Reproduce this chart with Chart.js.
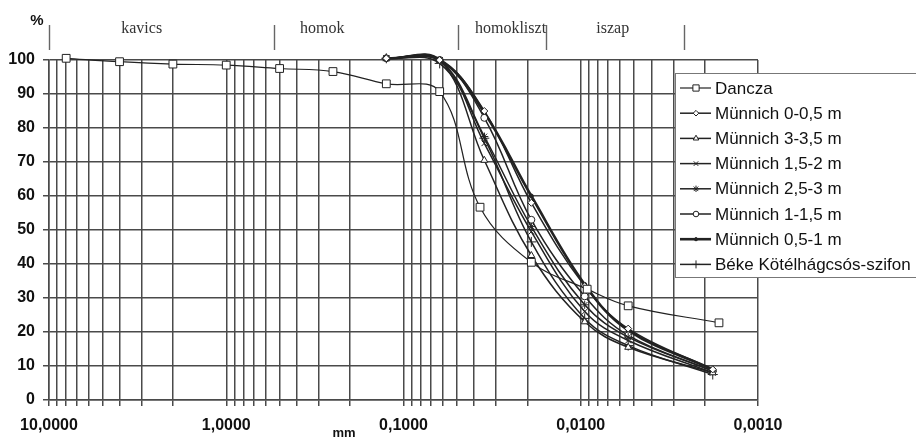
<!DOCTYPE html>
<html>
<head>
<meta charset="utf-8">
<script src="https://cdn.jsdelivr.net/npm/chart.js@4.4.1/dist/chart.umd.min.js"></script>
<style>
  html, body { margin: 0; padding: 0; background: #fff; }
  canvas { display: block; }
</style>
</head>
<body>
<canvas id="szemeloszlas" width="916" height="438"></canvas>
<script>
// szemcseátmérő (mm) és áthullott %
const danczaD = [8, 4, 2, 1, 0.5, 0.25, 0.125, 0.0625, 0.037, 0.019, 0.0092, 0.0054, 0.00166];
const danczaP = [100.5, 99.5, 98.8, 98.5, 97.5, 96.6, 93, 90.7, 56.7, 40.5, 32.6, 27.7, 22.7];

const munnichD = [0.125, 0.0625, 0.035, 0.019, 0.0095, 0.0054, 0.0018];
const m0_05 = [100.5, 100, 85, 58, 33.5, 21, 9];
const m3_35 = [100.5, 100, 70.5, 42.5, 23, 15.5, 8];
const m15_2 = [100.5, 100, 75.5, 49.5, 26, 17.5, 8];
const m25_3 = [100.5, 100, 77.5, 51, 28, 18.5, 8.5];
const m1_15 = [100.5, 100, 83, 53, 30.5, 19, 8.5];
const m05_1 = [100.5, 100, 84.5, 60, 34, 20.5, 9];
const beke = [100.5, 99, 77, 46.5, 24, 16, 7.5];

const seriesNames = ['Dancza', 'Münnich 0-0,5 m', 'Münnich 3-3,5 m', 'Münnich 1,5-2 m',
  'Münnich 2,5-3 m', 'Münnich 1-1,5 m', 'Münnich 0,5-1 m', 'Béke Kötélhágcsós-szifon'];

const decades = [10, 1, 0.1, 0.01, 0.001];
const tickLabels = ['10,0000', '1,0000', '0,1000', '0,0100', '0,0010'];

const bandNames = ['kavics', 'homok', 'homokliszt', 'iszap'];
const bandLabelAt = [3, 0.287, 0.0249, 0.0066];
const bandBounds = [10, 0.54, 0.049, 0.0158, 0.0026];

// log grid: 1..9 in every decade
const gridValues = [];
for (const dec of [0.001, 0.01, 0.1, 1]) {
  for (let m = 1; m < 10; m++) gridValues.push(+(dec * m).toPrecision(6));
}
gridValues.push(10);

const pts = (xs, ys) => xs.map((x, i) => ({ x: x, y: ys[i] }));

const styles = [
  { pointStyle: 'rect', pointRadius: 5.5, bg: '#fff', width: 1.2 },
  { pointStyle: 'rectRot', pointRadius: 3.5, bg: '#fff', width: 1.5 },
  { pointStyle: 'triangle', pointRadius: 4, bg: '#fff', width: 1.5 },
  { pointStyle: 'crossRot', pointRadius: 4, bg: '#fff', width: 1.5 },
  { pointStyle: 'star', pointRadius: 4, bg: '#fff', width: 1.5 },
  { pointStyle: 'circle', pointRadius: 3.5, bg: '#fff', width: 1.5 },
  { pointStyle: 'circle', pointRadius: 2, bg: '#222', width: 2.6 },
  { pointStyle: 'cross', pointRadius: 5, bg: '#fff', width: 1.5 }
];

const seriesData = [
  pts(danczaD, danczaP), pts(munnichD, m0_05), pts(munnichD, m3_35), pts(munnichD, m15_2),
  pts(munnichD, m25_3), pts(munnichD, m1_15), pts(munnichD, m05_1), pts(munnichD, beke)
];

const datasets = seriesData.map((d, i) => ({
  label: seriesNames[i],
  data: d,
  borderColor: '#222',
  borderWidth: styles[i].width,
  pointStyle: styles[i].pointStyle,
  pointRadius: styles[i].pointRadius,
  pointBackgroundColor: styles[i].bg,
  pointBorderColor: '#222',
  pointBorderWidth: 1,
  tension: 0.38,
  fill: false,
  clip: false
}));

const decorations = {
  id: 'decorations',
  afterDraw(chart) {
    const ctx = chart.ctx;
    const xs = chart.scales.x;
    ctx.save();

    // frakció-sáv a diagram fölött
    ctx.strokeStyle = '#666';
    ctx.lineWidth = 1.4;
    bandBounds.forEach(v => {
      const px = Math.round(xs.getPixelForValue(v)) + 0.5;
      ctx.beginPath(); ctx.moveTo(px, 25); ctx.lineTo(px, 50); ctx.stroke();
    });
    ctx.fillStyle = '#333';
    ctx.font = '16px "Liberation Serif", "Times New Roman", serif';
    ctx.textAlign = 'center';
    ctx.textBaseline = 'middle';
    bandNames.forEach((n, i) => ctx.fillText(n, xs.getPixelForValue(bandLabelAt[i]), 29));

    // tengelyfeliratok
    ctx.fillStyle = '#111';
    ctx.font = 'bold 15px "Liberation Sans", Arial, sans-serif';
    ctx.fillText('%', 37, 21);
    ctx.font = 'bold 13px "Liberation Sans", Arial, sans-serif';
    ctx.textBaseline = 'alphabetic';
    ctx.fillText('mm', 344, 437);

    // jelmagyarázat
    const bx = 675, by = 73, bh = 204;
    ctx.fillStyle = '#fff';
    ctx.fillRect(bx, by, 260, bh);
    ctx.strokeStyle = '#777';
    ctx.lineWidth = 1;
    ctx.strokeRect(bx + 0.5, by + 0.5, 260, bh);
    ctx.textAlign = 'left';
    ctx.textBaseline = 'middle';
    chart.data.datasets.forEach((ds, i) => {
      const y = 88 + i * 25.2;
      ctx.strokeStyle = '#222';
      ctx.lineWidth = ds.borderWidth;
      ctx.beginPath(); ctx.moveTo(680, y); ctx.lineTo(711, y); ctx.stroke();
      if (Chart.helpers && Chart.helpers.drawPoint) {
        ctx.fillStyle = ds.pointBackgroundColor;
        ctx.strokeStyle = '#222';
        ctx.lineWidth = 1;
        Chart.helpers.drawPoint(ctx, {
          pointStyle: ds.pointStyle, radius: ds.pointRadius * 0.8, borderWidth: 1, rotation: 0
        }, 696, y);
      }
      ctx.fillStyle = '#111';
      ctx.font = '17px "Liberation Sans", Arial, sans-serif';
      ctx.fillText(ds.label, 715, y + 1);
    });
    ctx.restore();
  }
};

const ctx = document.getElementById('szemeloszlas').getContext('2d');
const chart = new Chart(ctx, {
  type: 'line',
  data: { datasets: datasets },
  options: {
    responsive: false,
    animation: false,
    layout: { padding: { left: 0, top: 60, right: 158, bottom: 0 } },
    plugins: { legend: { display: false }, tooltip: { enabled: false } },
    scales: {
      x: {
        type: 'logarithmic',
        reverse: true,
        min: 0.001,
        max: 10,
        afterBuildTicks(scale) {
          scale.ticks = gridValues.map(v => ({ value: v }));
        },
        afterFit(scale) { scale.height = 38; },
        ticks: {
          autoSkip: false,
          maxRotation: 0,
          padding: 10,
          color: '#111',
          font: { family: '"Liberation Sans", Arial, sans-serif', size: 16, weight: 'bold' },
          callback(v) {
            const k = decades.findIndex(d => Math.abs(d - v) / d < 1e-6);
            return k >= 0 ? tickLabels[k] : '';
          }
        },
        grid: { color: '#4a4a4a', lineWidth: 1.5, tickLength: 6 },
        border: { color: '#4a4a4a', width: 1.5 }
      },
      y: {
        min: 0,
        max: 100,
        afterFit(scale) { scale.width = 49; },
        ticks: {
          stepSize: 5,
          padding: 8,
          color: '#111',
          font: { family: '"Liberation Sans", Arial, sans-serif', size: 16, weight: 'bold' },
          callback(v) { return v % 10 === 0 ? String(v) : ''; }
        },
        grid: { color: '#4a4a4a', lineWidth: 1.5, tickLength: 6 },
        border: { color: '#4a4a4a', width: 1.5 }
      }
    }
  },
  plugins: [decorations]
});
</script>
</body>
</html>
